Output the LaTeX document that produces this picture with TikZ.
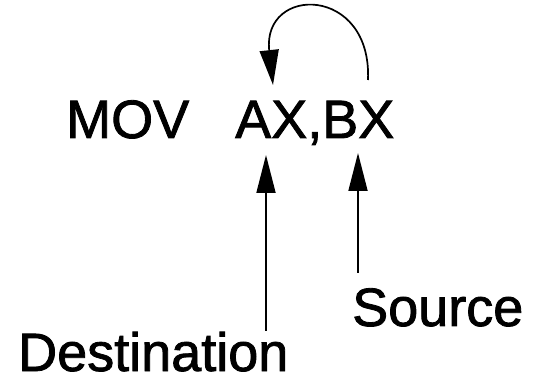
\documentclass[tikz,border=0pt]{standalone}
\usepackage{fontspec}
\setmainfont{Liberation Sans}[FakeBold=1.5]
\usetikzlibrary{arrows.meta}
\begin{document}
\begin{tikzpicture}[x=1pt,y=-1pt,
  big/.style={inner sep=0pt,anchor=base west,font=\fontsize{54}{60}\selectfont},
  lbl/.style={inner sep=0pt,anchor=base west,font=\fontsize{54}{60}\selectfont},
  arr/.style={line width=1.8pt,-{Triangle[length=38pt,width=19pt]}}]
\useasboundingbox (0,0) rectangle (533,379);
\node[big] (mov) at (66,138) {MOV};
\node[big] (axbx) at (235,138) {AX,BX};
\node[lbl] (dst) at (18,371) {Destination};
\node[lbl] (src) at (352,326) {Source};
\coordinate (dfoot) at (266,331);
\coordinate (dtip) at (266,155);
\coordinate (sfoot) at (358,273);
\coordinate (stip) at (358,153);
\coordinate (cstart) at (368,80);
\coordinate (cend) at (273,85);
\draw[arr] (dfoot) -- (dtip);
\draw[arr] (sfoot) -- (stip);
\draw[line width=1.7pt,-{Triangle[length=35pt,width=19pt]}] (cstart) .. controls (372,-15) and (262,-15) .. (cend);
\end{tikzpicture}
\end{document}
